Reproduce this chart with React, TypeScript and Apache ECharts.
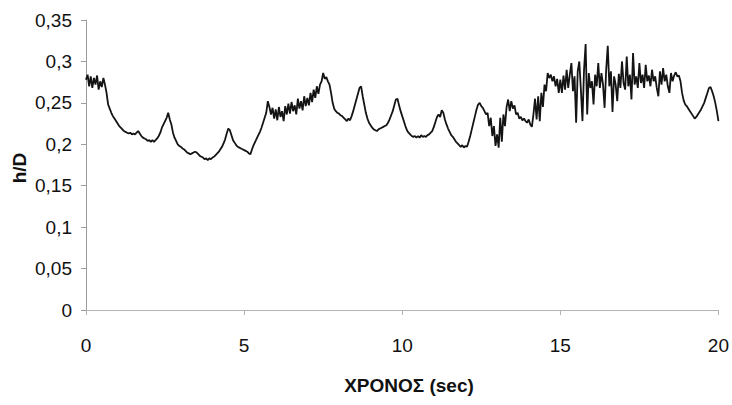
import React, { useEffect, useRef } from "react";
import * as echarts from "echarts";

// Sampling step of the record, in seconds
const STEP = 0.05;

// Relative depth h/D, one value every STEP seconds from 0 to 20 s
const hOverD: number[] = [
  0.278, 0.284, 0.270, 0.282, 0.268, 0.280, 0.272, 0.283, 0.266, 0.276, 0.269, 0.280, 0.272, 0.262, 0.248, 0.243, 0.238, 0.234, 0.231, 0.228,
  0.225, 0.222, 0.220, 0.218, 0.216, 0.215, 0.214, 0.213, 0.214, 0.212, 0.213, 0.212, 0.214, 0.216, 0.213, 0.210, 0.208, 0.207, 0.206, 0.204,
  0.205, 0.203, 0.205, 0.203, 0.205, 0.207, 0.210, 0.214, 0.220, 0.224, 0.228, 0.232, 0.238, 0.230, 0.224, 0.214, 0.208, 0.204, 0.200, 0.198,
  0.197, 0.195, 0.194, 0.192, 0.190, 0.189, 0.188, 0.189, 0.190, 0.191, 0.190, 0.188, 0.186, 0.185, 0.184, 0.182, 0.183, 0.181, 0.183, 0.182,
  0.184, 0.185, 0.187, 0.189, 0.191, 0.194, 0.197, 0.201, 0.206, 0.213, 0.219, 0.217, 0.211, 0.205, 0.202, 0.199, 0.197, 0.196, 0.195, 0.194,
  0.193, 0.192, 0.191, 0.189, 0.188, 0.194, 0.199, 0.203, 0.207, 0.211, 0.215, 0.220, 0.226, 0.232, 0.238, 0.252, 0.245, 0.236, 0.244, 0.231,
  0.242, 0.229, 0.245, 0.233, 0.240, 0.228, 0.246, 0.236, 0.249, 0.237, 0.251, 0.240, 0.247, 0.236, 0.255, 0.243, 0.252, 0.241, 0.258, 0.246,
  0.256, 0.247, 0.262, 0.251, 0.266, 0.256, 0.270, 0.261, 0.272, 0.276, 0.286, 0.279, 0.281, 0.276, 0.272, 0.262, 0.250, 0.243, 0.240, 0.238,
  0.237, 0.235, 0.234, 0.232, 0.230, 0.228, 0.231, 0.229, 0.234, 0.240, 0.247, 0.254, 0.261, 0.268, 0.270, 0.258, 0.248, 0.238, 0.231, 0.226,
  0.223, 0.220, 0.218, 0.217, 0.216, 0.218, 0.219, 0.220, 0.221, 0.222, 0.223, 0.226, 0.230, 0.235, 0.240, 0.247, 0.254, 0.255, 0.247, 0.240,
  0.234, 0.228, 0.222, 0.217, 0.214, 0.212, 0.210, 0.209, 0.210, 0.208, 0.210, 0.208, 0.211, 0.209, 0.210, 0.209, 0.211, 0.212, 0.214, 0.216,
  0.221, 0.227, 0.233, 0.236, 0.233, 0.241, 0.238, 0.230, 0.224, 0.219, 0.215, 0.211, 0.209, 0.206, 0.203, 0.201, 0.199, 0.197, 0.199, 0.196,
  0.198, 0.197, 0.203, 0.210, 0.218, 0.226, 0.234, 0.242, 0.248, 0.250, 0.246, 0.244, 0.240, 0.236, 0.238, 0.222, 0.232, 0.210, 0.222, 0.198,
  0.212, 0.196, 0.232, 0.203, 0.236, 0.222, 0.245, 0.254, 0.240, 0.252, 0.243, 0.247, 0.236, 0.238, 0.231, 0.233, 0.229, 0.231, 0.228, 0.226,
  0.230, 0.224, 0.221, 0.236, 0.255, 0.230, 0.258, 0.228, 0.262, 0.245, 0.272, 0.264, 0.286, 0.280, 0.284, 0.276, 0.282, 0.270, 0.279, 0.262,
  0.278, 0.262, 0.283, 0.266, 0.290, 0.268, 0.284, 0.298, 0.264, 0.282, 0.226, 0.288, 0.300, 0.266, 0.228, 0.290, 0.321, 0.236, 0.286, 0.268,
  0.276, 0.248, 0.284, 0.270, 0.298, 0.268, 0.286, 0.272, 0.244, 0.290, 0.319, 0.270, 0.288, 0.239, 0.282, 0.272, 0.252, 0.285, 0.268, 0.300,
  0.274, 0.266, 0.306, 0.270, 0.284, 0.254, 0.310, 0.272, 0.282, 0.268, 0.298, 0.274, 0.284, 0.268, 0.296, 0.276, 0.283, 0.270, 0.290, 0.276,
  0.282, 0.268, 0.258, 0.288, 0.272, 0.292, 0.276, 0.284, 0.270, 0.262, 0.286, 0.276, 0.283, 0.287, 0.282, 0.283, 0.276, 0.262, 0.253, 0.248,
  0.246, 0.243, 0.240, 0.237, 0.234, 0.231, 0.233, 0.236, 0.239, 0.242, 0.246, 0.250, 0.256, 0.262, 0.268, 0.269, 0.264, 0.258, 0.250, 0.240,
  0.228,
];

// Axis ranges
const X_MIN = 0;
const X_MAX = 20;
const X_INTERVAL = 5;
const Y_MIN = 0;
const Y_MAX = 0.35;
const Y_INTERVAL = 0.05;

const X_TITLE = "ΧΡΟΝΟΣ (sec)";
const Y_TITLE = "h/D";

const FONT = "'Liberation Sans', Arial, sans-serif";

const formatDecimal = (v: number) =>
  String(parseFloat(v.toFixed(2))).replace(".", ",");

export default function App() {
  const ref = useRef<HTMLDivElement>(null);

  useEffect(() => {
    if (!ref.current) return;
    const chart = echarts.init(ref.current, undefined, { renderer: "svg" });

    const points = hOverD.map((v, i) => [parseFloat((i * STEP).toFixed(2)), v]);

    chart.setOption({
      animation: false,
      backgroundColor: "#ffffff",
      grid: { left: 86, right: 8, top: 20, bottom: 95, containLabel: false },
      xAxis: {
        type: "value",
        min: X_MIN,
        max: X_MAX,
        interval: X_INTERVAL,
        axisLine: { show: true, onZero: false, lineStyle: { color: "#b4b4b4", width: 1 } },
        axisTick: { show: true, length: 5, lineStyle: { color: "#b4b4b4" } },
        splitLine: { show: false },
        axisLabel: {
          margin: 26,
          color: "#111111",
          fontSize: 19,
          fontFamily: FONT,
        },
      },
      yAxis: {
        type: "value",
        min: Y_MIN,
        max: Y_MAX,
        interval: Y_INTERVAL,
        axisLine: { show: true, lineStyle: { color: "#9c9c9c", width: 1 } },
        axisTick: { show: true, length: 5, lineStyle: { color: "#9c9c9c" } },
        splitLine: { show: false },
        axisLabel: {
          margin: 14,
          color: "#111111",
          fontSize: 19,
          fontFamily: FONT,
          formatter: (v: number) => formatDecimal(v),
        },
      },
      graphic: [
        {
          type: "text",
          x: 409,
          y: 385,
          style: {
            text: X_TITLE,
            fontSize: 19,
            fontWeight: "bold",
            fontFamily: FONT,
            fill: "#111111",
            align: "center",
            verticalAlign: "middle",
          },
        },
        {
          type: "text",
          x: 19,
          y: 168,
          rotation: Math.PI / 2,
          style: {
            text: Y_TITLE,
            fontSize: 19,
            fontWeight: "bold",
            fontFamily: FONT,
            fill: "#111111",
            align: "center",
            verticalAlign: "middle",
          },
        },
      ],
      series: [
        {
          type: "line",
          data: points,
          showSymbol: false,
          symbol: "none",
          lineStyle: { color: "#141414", width: 1.8 },
          emphasis: { disabled: true },
        },
      ],
    });

    return () => chart.dispose();
  }, []);

  return (
    <div
      ref={ref}
      style={{ position: "fixed", left: 0, top: 0, width: 732, height: 405, background: "#fff" }}
    />
  );
}
